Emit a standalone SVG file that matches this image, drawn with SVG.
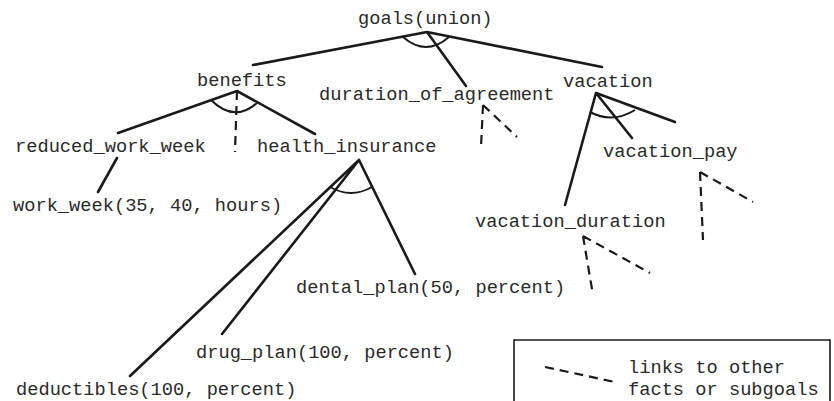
<svg xmlns="http://www.w3.org/2000/svg" width="834" height="401" viewBox="0 0 834 401">
  <style>
    .lbl { font-family: "Liberation Mono", "Courier New", monospace; font-size: 18.7px; fill: #2a2a2a; }
    .edge { stroke: #1a1a1a; stroke-width: 2.6; fill: none; stroke-linecap: round; }
    .arc { stroke: #1a1a1a; stroke-width: 2; fill: none; }
    .link { stroke: #1a1a1a; stroke-width: 2.2; fill: none; stroke-dasharray: 9 6; }
  </style>
  <rect width="834" height="401" fill="#ffffff"/>

  <g id="connectors">
    <!-- goals(union) -->
    <path class="edge" d="M427,32 L253,65 M427,32 L466,86 M427,32 L602,67"/>
    <path class="arc" d="M403,37 Q426,57 449,37"/>
    <!-- benefits -->
    <path class="edge" d="M237,91 L118,133 M237,91 L315,134"/>
    <path class="link" d="M237,91 L235,152"/>
    <path class="arc" d="M211,100 Q234,123 257,103"/>
    <!-- reduced_work_week -->
    <path class="edge" d="M117,158 L98,192"/>
    <!-- health_insurance -->
    <path class="edge" d="M359,160 L130,376 M359,160 L222,334 M359,160 L415,274"/>
    <path class="arc" d="M330,187 Q351,199 372,187"/>
    <!-- vacation -->
    <path class="edge" d="M596,93 L565,205 M596,93 L632,138 M596,93 L675,122"/>
    <path class="arc" d="M590,112 Q612,124 635,110"/>
    <!-- links to other facts or subgoals -->
    <path class="link" d="M483,105 L481,147 M483,105 L517,137"/>
    <path class="link" d="M700,172 L703,240 M700,172 L753,202"/>
    <path class="link" d="M583,236 L593,295 M583,236 L650,273"/>
  </g>

  <g id="goals"><text class="lbl" x="358" y="24">goals(union)</text></g>
  <g id="benefits"><text class="lbl" x="197" y="86">benefits</text></g>
  <g id="duration_of_agreement"><text class="lbl" x="319" y="100">duration_of_agreement</text></g>
  <g id="vacation"><text class="lbl" x="563" y="87">vacation</text></g>
  <g id="reduced_work_week"><text class="lbl" x="15" y="152">reduced_work_week</text></g>
  <g id="health_insurance"><text class="lbl" x="257" y="152">health_insurance</text></g>
  <g id="vacation_pay"><text class="lbl" x="603" y="157">vacation_pay</text></g>
  <g id="work_week"><text class="lbl" x="13" y="211">work_week(35, 40, hours)</text></g>
  <g id="vacation_duration"><text class="lbl" x="475" y="227">vacation_duration</text></g>
  <g id="dental_plan"><text class="lbl" x="296" y="293">dental_plan(50, percent)</text></g>
  <g id="drug_plan"><text class="lbl" x="196" y="358">drug_plan(100, percent)</text></g>
  <g id="deductibles"><text class="lbl" x="16" y="395">deductibles(100, percent)</text></g>

  <g id="legend">
    <path d="M514,403 L514,340 L830,340 L830,403" fill="none" stroke="#1a1a1a" stroke-width="1.6"/>
    <path class="link" d="M545,367 L615,382" stroke-dasharray="1.5 7 8 7"/>
    <text class="lbl" x="628" y="373">links to other</text>
    <text class="lbl" x="628" y="395">facts or subgoals</text>
  </g>
</svg>
